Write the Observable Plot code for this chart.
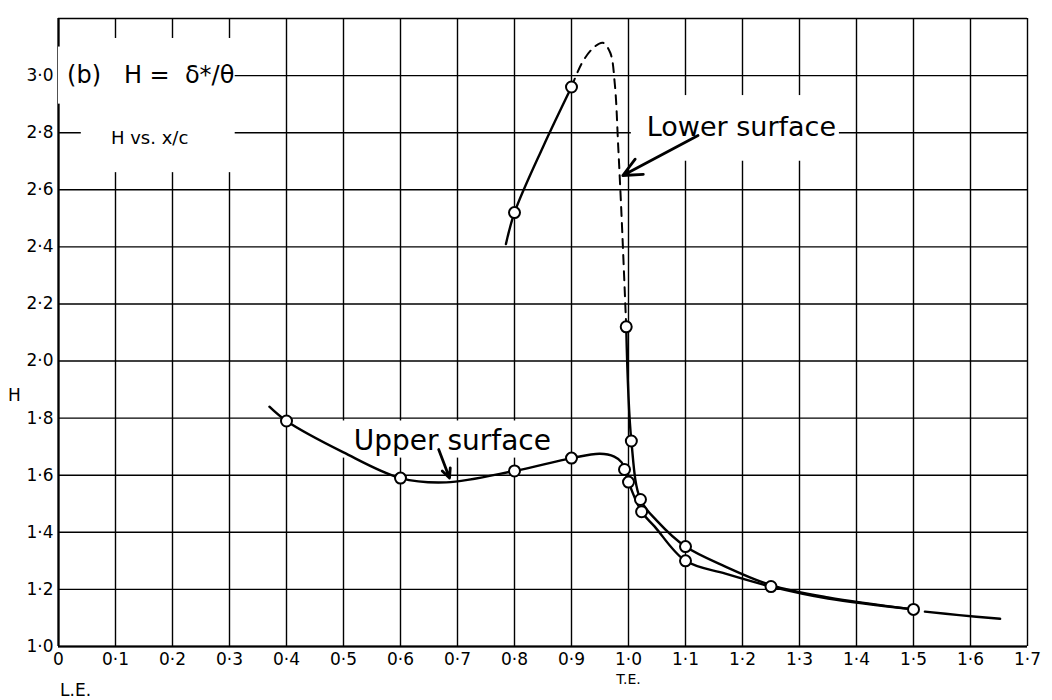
<!DOCTYPE html>
<html>
<head>
<meta charset="utf-8">
<script src="https://cdn.jsdelivr.net/npm/d3@7"></script>
<script src="https://cdn.jsdelivr.net/npm/@observablehq/plot@0.6"></script>
<style>
  html, body { margin: 0; padding: 0; background: #fff; }
</style>
</head>
<body>
<div id="chart"></div>
<script>
// ---- tick values / labels ----
const xTicks = [0, 0.1, 0.2, 0.3, 0.4, 0.5, 0.6, 0.7, 0.8, 0.9, 1.0, 1.1, 1.2, 1.3, 1.4, 1.5, 1.6, 1.7];
const yGrid = [1.0, 1.2, 1.4, 1.6, 1.8, 2.0, 2.2, 2.4, 2.6, 2.8, 3.0, 3.2];
const yTicks = [1.0, 1.2, 1.4, 1.6, 1.8, 2.0, 2.2, 2.4, 2.6, 2.8, 3.0];

// ---- measured points (circles) : [x/c, H] ----
const upperPoints = [[0.4, 1.79], [0.6, 1.59], [0.8, 1.615], [0.9, 1.66], [0.993, 1.62], [1.0, 1.576], [1.023, 1.472], [1.1, 1.30], [1.25, 1.21], [1.5, 1.13]];
const lowerPoints = [[0.8, 2.52], [0.9, 2.96], [0.996, 2.12], [1.005, 1.72], [1.021, 1.515], [1.1, 1.35]];

// ---- faired curves ----
const upperCurve = [[0.37, 1.84], [0.4, 1.79], [0.5, 1.68], [0.6, 1.59], [0.68, 1.575], [0.8, 1.615], [0.9, 1.66], [0.95, 1.675], [0.975, 1.665], [0.988, 1.645], [0.993, 1.62], [1.0, 1.576], [1.023, 1.472], [1.046, 1.42], [1.1, 1.30], [1.17, 1.255], [1.25, 1.21], [1.35, 1.168], [1.5, 1.13]];
const lowerCurveSolid = [[0.785, 2.41], [0.8, 2.52], [0.85, 2.75], [0.9, 2.96]];
const lowerCurveDashed = [[0.9, 2.96], [0.92, 3.05], [0.94, 3.10], [0.955, 3.115], [0.968, 3.08], [0.976, 2.97], [0.982, 2.75], [0.988, 2.5], [0.996, 2.12]];
const lowerCurveWake = [[0.996, 2.12], [1.005, 1.72], [1.021, 1.515], [1.05, 1.44], [1.1, 1.35], [1.17, 1.28], [1.25, 1.215], [1.35, 1.172], [1.5, 1.13]];
const wakeTail = [[1.52, 1.122], [1.58, 1.11], [1.652, 1.097]];

// ---- annotations ----
const labels = [
  {x: 0.015, y: 3.0, text: "(b)   H =  δ*/θ", size: 24},
  {x: 0.092, y: 2.78, text: "H vs. x/c", size: 18},
  {x: 1.032, y: 2.82, text: "Lower surface", size: 27},
  {x: 0.518, y: 1.72, text: "Upper surface", size: 28}
];
const gapBoxes = [
  {x1: 0.04, x2: 0.31, y1: 2.66, y2: 3.13},
  {x1: 0.0, x2: 0.04, y1: 2.9, y2: 3.1},
  {x1: 1.005, x2: 1.37, y1: 2.70, y2: 2.93},
  {x1: 0.495, x2: 0.89, y1: 1.66, y2: 1.79}
];
const arrows = [
  {x1: 1.122, y1: 2.79, x2: 0.99, y2: 2.65},
  {x1: 0.667, y1: 1.69, x2: 0.686, y2: 1.59}
];

const fmt = d => d === 0 ? "0" : d.toFixed(1).replace(".", "·");
const font = "'DejaVu Sans', sans-serif";

const chart = Plot.plot({
  width: 1052,
  height: 700,
  marginLeft: 58,
  marginRight: 25,
  marginTop: 18,
  marginBottom: 54,
  style: {fontFamily: font, background: "white", color: "black", overflow: "visible"},
  x: {domain: [0, 1.7], label: null},
  y: {domain: [1.0, 3.2], label: null},
  marks: [
    Plot.ruleX(xTicks, {stroke: "black", strokeWidth: 1.4}),
    Plot.ruleY(yGrid, {stroke: "black", strokeWidth: 1.4}),
    Plot.ruleX([0], {stroke: "black", strokeWidth: 2.2}),
    Plot.ruleY([1.0], {stroke: "black", strokeWidth: 2}),
    Plot.rect(gapBoxes, {x1: "x1", x2: "x2", y1: "y1", y2: "y2", fill: "white"}),
    Plot.axisX({ticks: xTicks, tickFormat: fmt, tickSize: 0, tickPadding: 6, fontSize: 17, label: null}),
    Plot.axisY({ticks: yTicks, tickFormat: fmt, tickSize: 0, tickPadding: 5, fontSize: 17, label: null}),
    Plot.line(upperCurve, {x: d => d[0], y: d => d[1], curve: "catmull-rom", stroke: "black", strokeWidth: 2.4}),
    Plot.line(lowerCurveSolid, {x: d => d[0], y: d => d[1], curve: "catmull-rom", stroke: "black", strokeWidth: 2.4}),
    Plot.line(lowerCurveDashed, {x: d => d[0], y: d => d[1], curve: "catmull-rom", stroke: "black", strokeWidth: 2, strokeDasharray: "9,7"}),
    Plot.line(lowerCurveWake, {x: d => d[0], y: d => d[1], curve: "catmull-rom", stroke: "black", strokeWidth: 2.4}),
    Plot.line(wakeTail, {x: d => d[0], y: d => d[1], curve: "catmull-rom", stroke: "black", strokeWidth: 2.4}),
    Plot.arrow(arrows, {x1: "x1", y1: "y1", x2: "x2", y2: "y2", stroke: "black", strokeWidth: 2.8, headLength: 11, headAngle: 50}),
    Plot.dot(upperPoints, {x: d => d[0], y: d => d[1], r: 5.5, stroke: "black", strokeWidth: 2, fill: "white"}),
    Plot.dot(lowerPoints, {x: d => d[0], y: d => d[1], r: 5.5, stroke: "black", strokeWidth: 2, fill: "white"}),
    Plot.text(labels, {x: "x", y: "y", text: "text", fontSize: d => d.size, textAnchor: "start", fill: "black"}),
    Plot.text(["H"], {x: 0, y: 1.88, dx: -44, fontSize: 17, fill: "black"}),
    Plot.text(["L.E."], {x: 0.03, y: 1.0, dy: 44, fontSize: 17, fill: "black"}),
    Plot.text(["T.E."], {x: 1.0, y: 1.0, dy: 33, fontSize: 14, fill: "black"})
  ]
});
document.getElementById("chart").appendChild(chart);
</script>
</body>
</html>
